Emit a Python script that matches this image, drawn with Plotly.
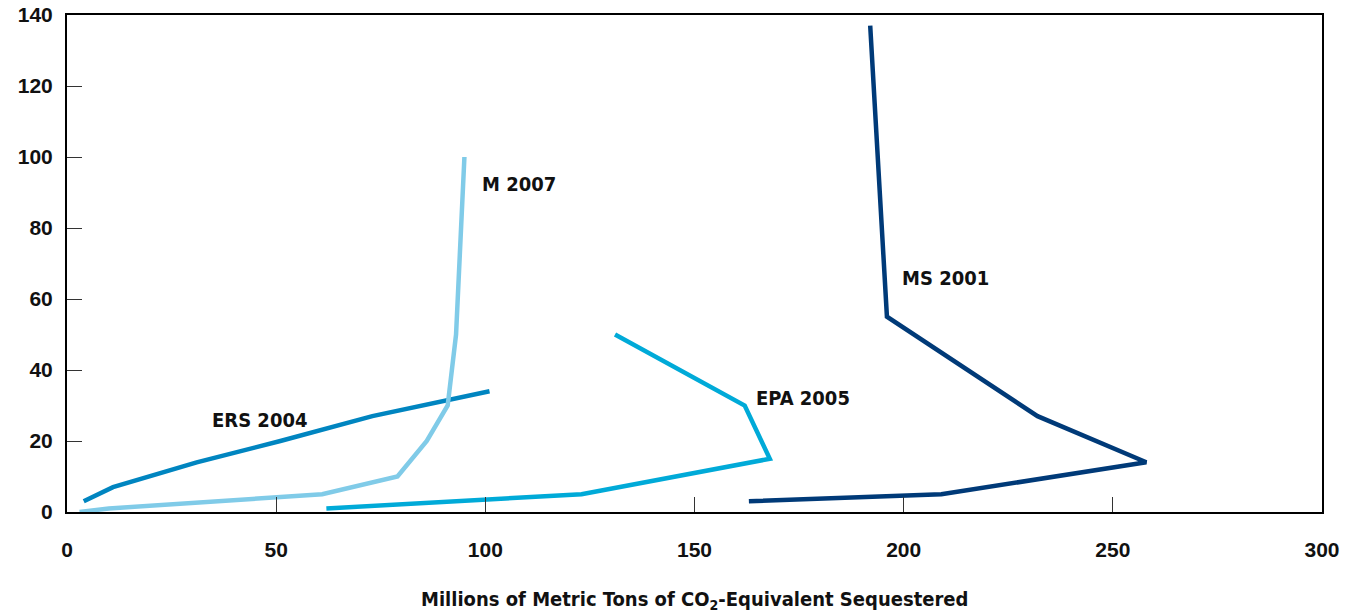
import plotly.graph_objects as go

# Data (millions of metric tons CO2-eq sequestered vs. price)
ms2001_x = [163, 209, 258, 232, 196, 192]
ms2001_y = [3, 5, 14, 27, 55, 137]

epa2005_x = [62, 123, 168, 162, 131]
epa2005_y = [1, 5, 15, 30, 50]

ers2004_x = [4, 11, 31, 51, 73, 101]
ers2004_y = [3, 7, 14, 20, 27, 34]

m2007_x = [3, 10, 61, 79, 86, 91, 93, 95]
m2007_y = [0, 1, 5, 10, 20, 30, 50, 100]

series = [
    ("MS 2001", ms2001_x, ms2001_y, "#003a78", 210, 66),
    ("EPA 2005", epa2005_x, epa2005_y, "#00aad8", 176, 32),
    ("ERS 2004", ers2004_x, ers2004_y, "#0085c0", 46, 26),
    ("M 2007", m2007_x, m2007_y, "#80cbe8", 108, 92.5),
]

x_ticks = [0, 50, 100, 150, 200, 250, 300]
y_ticks = [0, 20, 40, 60, 80, 100, 120, 140]

LABEL_FONT = "Liberation Sans Narrow, DejaVu Sans Condensed, Arial Narrow, sans-serif"
TICK_FONT = "Liberation Sans, Arial, sans-serif"

fig = go.Figure()
for name, xs, ys, color, lx, ly in series:
    fig.add_trace(go.Scatter(x=xs, y=ys, mode="lines", name=name,
                             line=dict(color=color, width=4.5),
                             showlegend=False))
    fig.add_annotation(x=lx, y=ly, text="<b>%s</b>" % name, showarrow=False,
                       font=dict(family=LABEL_FONT, size=20, color="#111111"))

fig.add_annotation(xref="paper", yref="paper", x=0.5, y=-0.177,
                   xanchor="center", yanchor="middle", showarrow=False,
                   text="<b>Millions of Metric Tons of CO<sub>2</sub>-Equivalent Sequestered</b>",
                   font=dict(family=LABEL_FONT, size=20, color="#111111"))

fig.update_layout(
    width=1353, height=615,
    margin=dict(l=67, r=31, t=15, b=103),
    plot_bgcolor="white", paper_bgcolor="white",
    font=dict(family=TICK_FONT, color="#111111"),
)
fig.update_xaxes(
    range=[0, 300], tickvals=x_ticks, ticktext=["<b>%d</b>" % v for v in x_ticks],
    ticks="inside", ticklen=15, tickwidth=1, tickcolor="#333333",
    showline=True, linecolor="black", linewidth=2, mirror=True,
    showgrid=False, zeroline=False, tickfont=dict(family=TICK_FONT, size=21),
    ticklabelstandoff=18, automargin=False, ticklabeloverflow="allow",
)
fig.update_yaxes(
    range=[0, 140], tickvals=y_ticks, ticktext=["<b>%d</b>" % v for v in y_ticks],
    ticks="inside", ticklen=15, tickwidth=1, tickcolor="#333333",
    showline=True, linecolor="black", linewidth=2, mirror=True,
    showgrid=False, zeroline=False, tickfont=dict(family=TICK_FONT, size=21),
    ticklabelstandoff=8, automargin=False, ticklabeloverflow="allow",
)
fig.write_html("out.html", config={"displayModeBar": False},
               post_script="document.body.style.margin='0';document.body.style.overflow='hidden';")
